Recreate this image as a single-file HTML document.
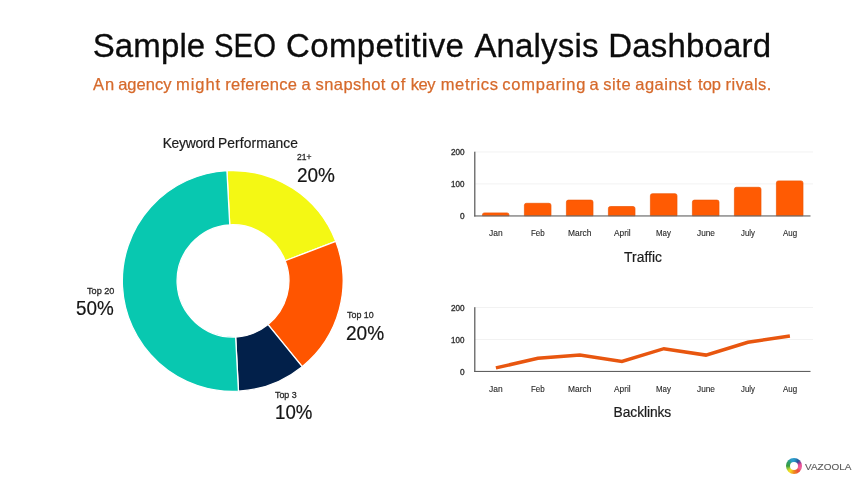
<!DOCTYPE html>
<html><head><meta charset="utf-8"><title>Sample SEO Competitive Analysis Dashboard</title>
<style>
html,body{margin:0;padding:0;background:#fff;}
body{width:864px;height:486px;position:relative;overflow:hidden;font-family:"Liberation Sans",sans-serif;}
#txt{position:absolute;left:0;top:0;width:864px;height:486px;will-change:transform;filter:blur(0.3px);}
.t{position:absolute;white-space:nowrap;line-height:1;}
svg{position:absolute;left:0;top:0;filter:blur(0.3px);}
.lg{filter:blur(0.3px);}
</style></head><body>
<svg width="864" height="486" viewBox="0 0 864 486">
<path d="M226.92 170.65A110.4 110.4 0 0 1 335.77 241.34L285.17 260.76A56.2 56.2 0 0 0 229.76 224.78Z" fill="#f4f814" stroke="#ffffff" stroke-width="1.3" stroke-linejoin="round"/>
<path d="M335.77 241.34A110.4 110.4 0 0 1 302.18 366.70L268.07 324.58A56.2 56.2 0 0 0 285.17 260.76Z" fill="#ff5500" stroke="#ffffff" stroke-width="1.3" stroke-linejoin="round"/>
<path d="M302.18 366.70A110.4 110.4 0 0 1 238.48 391.15L235.64 337.02A56.2 56.2 0 0 0 268.07 324.58Z" fill="#02204a" stroke="#ffffff" stroke-width="1.3" stroke-linejoin="round"/>
<path d="M238.48 391.15A110.4 110.4 0 0 1 226.92 170.65L229.76 224.78A56.2 56.2 0 0 0 235.64 337.02Z" fill="#08c8b0" stroke="#ffffff" stroke-width="1.3" stroke-linejoin="round"/>
<rect x="475" y="151.5" width="338" height="0.9" fill="#f1f1f1"/>
<rect x="475" y="183.45" width="338" height="0.9" fill="#f0f0f0"/>
<path d="M482.40 215.8V214.90Q482.40 212.90 484.40 212.90H507.00Q509.00 212.90 509.00 214.90V215.8Z" fill="#ff5b03" stroke="#ee5604" stroke-width="0.7"/>
<path d="M524.40 215.8V205.30Q524.40 203.30 526.40 203.30H549.00Q551.00 203.30 551.00 205.30V215.8Z" fill="#ff5b03" stroke="#ee5604" stroke-width="0.7"/>
<path d="M566.40 215.8V202.10Q566.40 200.10 568.40 200.10H591.00Q593.00 200.10 593.00 202.10V215.8Z" fill="#ff5b03" stroke="#ee5604" stroke-width="0.7"/>
<path d="M608.40 215.8V208.50Q608.40 206.50 610.40 206.50H633.00Q635.00 206.50 635.00 208.50V215.8Z" fill="#ff5b03" stroke="#ee5604" stroke-width="0.7"/>
<path d="M650.40 215.8V195.70Q650.40 193.70 652.40 193.70H675.00Q677.00 193.70 677.00 195.70V215.8Z" fill="#ff5b03" stroke="#ee5604" stroke-width="0.7"/>
<path d="M692.40 215.8V202.10Q692.40 200.10 694.40 200.10H717.00Q719.00 200.10 719.00 202.10V215.8Z" fill="#ff5b03" stroke="#ee5604" stroke-width="0.7"/>
<path d="M734.40 215.8V189.30Q734.40 187.30 736.40 187.30H759.00Q761.00 187.30 761.00 189.30V215.8Z" fill="#ff5b03" stroke="#ee5604" stroke-width="0.7"/>
<path d="M776.40 215.8V182.90Q776.40 180.90 778.40 180.90H801.00Q803.00 180.90 803.00 182.90V215.8Z" fill="#ff5b03" stroke="#ee5604" stroke-width="0.7"/>
<rect x="474.2" y="151.7" width="1.2" height="64.8" fill="#555"/>
<rect x="474.2" y="215.4" width="336.3" height="1.1" fill="#606060"/>
<rect x="475" y="307.0" width="338" height="0.9" fill="#f1f1f1"/>
<rect x="475" y="338.95" width="338" height="0.9" fill="#f0f0f0"/>
<rect x="474.2" y="307.2" width="1.2" height="64.8" fill="#555"/>
<rect x="474.2" y="370.9" width="336.3" height="1.1" fill="#606060"/>
<polyline points="495.9,367.90 537.9,358.30 579.9,355.10 621.9,361.50 663.9,348.70 705.9,355.10 747.9,342.30 789.9,335.90" fill="none" stroke="#e8560f" stroke-width="3.5" stroke-linejoin="miter"/>

</svg>
<div class="lg" style="position:absolute;left:786.1px;top:457.5px;width:16.4px;height:16.4px;border-radius:50%;background:conic-gradient(from 0deg,#2b9ccb 0deg,#23599c 40deg,#8a3f98 58deg,#ea4f96 80deg,#ef5f9a 110deg,#e9503c 140deg,#f08a1e 180deg,#f6e11f 222deg,#9ccb3c 245deg,#3a9c3e 270deg,#2f9e6a 305deg,#2b9ccb 335deg,#2b9ccb 360deg);"></div>
<div class="lg" style="position:absolute;left:790.1px;top:462.1px;width:8.2px;height:8.2px;border-radius:50%;background:#fff;"></div>
<div id="txt">
<div class="t" id="ti0" style="left:92.69px;top:29.47px;font-size:33.0px;color:#0c0c0c;-webkit-text-stroke:0.3px #0c0c0c;letter-spacing:0.126px;">Sample</div>
<div class="t" id="ti1" style="left:214.20px;top:29.47px;font-size:33.0px;color:#0c0c0c;-webkit-text-stroke:0.3px #0c0c0c;transform:scaleX(0.8891);transform-origin:0 0;">SEO</div>
<div class="t" id="ti2" style="left:286.00px;top:29.47px;font-size:33.0px;color:#0c0c0c;-webkit-text-stroke:0.3px #0c0c0c;letter-spacing:0.369px;">Competitive</div>
<div class="t" id="ti3" style="left:474.45px;top:29.47px;font-size:33.0px;color:#0c0c0c;-webkit-text-stroke:0.3px #0c0c0c;letter-spacing:0.155px;">Analysis</div>
<div class="t" id="ti4" style="left:608.17px;top:29.47px;font-size:33.0px;color:#0c0c0c;-webkit-text-stroke:0.3px #0c0c0c;letter-spacing:0.191px;">Dashboard</div>
<div class="t" id="su0" style="left:93.12px;top:76.23px;font-size:16.5px;color:#d66a2c;-webkit-text-stroke:0.25px #d66a2c;letter-spacing:0.794px;">An</div>
<div class="t" id="su1" style="left:118.13px;top:76.23px;font-size:16.5px;color:#d66a2c;-webkit-text-stroke:0.25px #d66a2c;letter-spacing:0.016px;">agency</div>
<div class="t" id="su2" style="left:176.01px;top:76.23px;font-size:16.5px;color:#d66a2c;-webkit-text-stroke:0.25px #d66a2c;letter-spacing:0.945px;">might</div>
<div class="t" id="su3" style="left:225.31px;top:76.23px;font-size:16.5px;color:#d66a2c;-webkit-text-stroke:0.25px #d66a2c;letter-spacing:0.226px;">reference</div>
<div class="t" id="su4" style="left:301.38px;top:76.23px;font-size:16.5px;color:#d66a2c;-webkit-text-stroke:0.25px #d66a2c;">a</div>
<div class="t" id="su5" style="left:315.59px;top:76.23px;font-size:16.5px;color:#d66a2c;-webkit-text-stroke:0.25px #d66a2c;letter-spacing:0.411px;">snapshot</div>
<div class="t" id="su6" style="left:390.66px;top:76.23px;font-size:16.5px;color:#d66a2c;-webkit-text-stroke:0.25px #d66a2c;letter-spacing:1.026px;">of</div>
<div class="t" id="su7" style="left:410.66px;top:76.23px;font-size:16.5px;color:#d66a2c;-webkit-text-stroke:0.25px #d66a2c;letter-spacing:-0.461px;">key</div>
<div class="t" id="su8" style="left:440.65px;top:76.23px;font-size:16.5px;color:#d66a2c;-webkit-text-stroke:0.25px #d66a2c;letter-spacing:0.688px;">metrics</div>
<div class="t" id="su9" style="left:502.26px;top:76.23px;font-size:16.5px;color:#d66a2c;-webkit-text-stroke:0.25px #d66a2c;letter-spacing:0.758px;">comparing</div>
<div class="t" id="su10" style="left:589.50px;top:76.23px;font-size:16.5px;color:#d66a2c;-webkit-text-stroke:0.25px #d66a2c;">a</div>
<div class="t" id="su11" style="left:603.31px;top:76.23px;font-size:16.5px;color:#d66a2c;-webkit-text-stroke:0.25px #d66a2c;letter-spacing:0.548px;">site</div>
<div class="t" id="su12" style="left:635.32px;top:76.23px;font-size:16.5px;color:#d66a2c;-webkit-text-stroke:0.25px #d66a2c;letter-spacing:0.478px;">against</div>
<div class="t" id="su13" style="left:698.00px;top:76.23px;font-size:16.5px;color:#d66a2c;-webkit-text-stroke:0.25px #d66a2c;letter-spacing:0.046px;">top</div>
<div class="t" id="su14" style="left:725.62px;top:76.23px;font-size:16.5px;color:#d66a2c;-webkit-text-stroke:0.25px #d66a2c;letter-spacing:0.430px;">rivals.</div>
<div class="t" id="kw0" style="left:162.65px;top:137.12px;font-size:13.8px;color:#1c1c1c;-webkit-text-stroke:0.2px #1c1c1c;letter-spacing:-0.234px;">Keyword</div>
<div class="t" id="kw1" style="left:218.05px;top:137.12px;font-size:13.8px;color:#1c1c1c;-webkit-text-stroke:0.2px #1c1c1c;letter-spacing:0.096px;">Performance</div>
<div class="t" id="l21" style="left:297.38px;top:152.16px;font-size:9.5px;color:#2a2a2a;-webkit-text-stroke:0.3px #2a2a2a;transform:scaleX(0.8996);transform-origin:0 0;">21+</div>
<div class="t" id="p21" style="left:297.09px;top:164.12px;font-size:21.0px;color:#151515;-webkit-text-stroke:0.2px #151515;transform:scaleX(0.9043);transform-origin:0 0;">20%</div>
<div class="t" id="l20" style="left:86.86px;top:285.56px;font-size:9.5px;color:#2a2a2a;-webkit-text-stroke:0.3px #2a2a2a;transform:scaleX(0.9611);transform-origin:0 0;">Top 20</div>
<div class="t" id="p20" style="left:76.18px;top:297.22px;font-size:21.0px;color:#151515;-webkit-text-stroke:0.2px #151515;transform:scaleX(0.8973);transform-origin:0 0;">50%</div>
<div class="t" id="l10" style="left:347.15px;top:310.16px;font-size:9.5px;color:#2a2a2a;-webkit-text-stroke:0.3px #2a2a2a;transform:scaleX(0.9347);transform-origin:0 0;">Top 10</div>
<div class="t" id="p10" style="left:345.91px;top:321.72px;font-size:21.0px;color:#151515;-webkit-text-stroke:0.2px #151515;transform:scaleX(0.9081);transform-origin:0 0;">20%</div>
<div class="t" id="l3" style="left:275.37px;top:389.86px;font-size:9.5px;color:#2a2a2a;-webkit-text-stroke:0.3px #2a2a2a;transform:scaleX(0.9341);transform-origin:0 0;">Top 3</div>
<div class="t" id="p3" style="left:275.31px;top:401.42px;font-size:21.0px;color:#151515;-webkit-text-stroke:0.2px #151515;transform:scaleX(0.8889);transform-origin:0 0;">10%</div>
<div class="t" id="traffic" style="left:624.03px;top:250.92px;font-size:13.8px;color:#1c1c1c;-webkit-text-stroke:0.2px #1c1c1c;letter-spacing:0.072px;">Traffic</div>
<div class="t" id="backlinks" style="left:613.61px;top:406.12px;font-size:13.8px;color:#1c1c1c;-webkit-text-stroke:0.2px #1c1c1c;letter-spacing:-0.081px;">Backlinks</div>
<div class="t" id="vaz" style="left:804.76px;top:462.42px;font-size:9.9px;color:#5c5c5c;-webkit-text-stroke:0.15px #5c5c5c;transform:scaleX(1.0098);transform-origin:0 0;">VAZOOLA</div>
<div class="t" id="m0_0" style="left:489.15px;top:229.12px;font-size:8.3px;color:#2a2a2a;-webkit-text-stroke:0.12px #2a2a2a;transform:scaleX(1.0161);transform-origin:0 0;">Jan</div>
<div class="t" id="m0_1" style="left:530.62px;top:229.12px;font-size:8.3px;color:#2a2a2a;-webkit-text-stroke:0.12px #2a2a2a;transform:scaleX(0.9604);transform-origin:0 0;">Feb</div>
<div class="t" id="m0_2" style="left:567.60px;top:229.12px;font-size:8.3px;color:#2a2a2a;-webkit-text-stroke:0.12px #2a2a2a;transform:scaleX(1.0131);transform-origin:0 0;">March</div>
<div class="t" id="m0_3" style="left:613.68px;top:229.12px;font-size:8.3px;color:#2a2a2a;-webkit-text-stroke:0.12px #2a2a2a;transform:scaleX(1.0047);transform-origin:0 0;">April</div>
<div class="t" id="m0_4" style="left:655.58px;top:229.12px;font-size:8.3px;color:#2a2a2a;-webkit-text-stroke:0.12px #2a2a2a;transform:scaleX(0.9516);transform-origin:0 0;">May</div>
<div class="t" id="m0_5" style="left:696.94px;top:229.12px;font-size:8.3px;color:#2a2a2a;-webkit-text-stroke:0.12px #2a2a2a;transform:scaleX(0.9956);transform-origin:0 0;">June</div>
<div class="t" id="m0_6" style="left:741.00px;top:229.12px;font-size:8.3px;color:#2a2a2a;-webkit-text-stroke:0.12px #2a2a2a;transform:scaleX(0.9405);transform-origin:0 0;">July</div>
<div class="t" id="m0_7" style="left:782.71px;top:229.12px;font-size:8.3px;color:#2a2a2a;-webkit-text-stroke:0.12px #2a2a2a;transform:scaleX(0.9541);transform-origin:0 0;">Aug</div>
<div class="t" id="y0_200" style="left:450.75px;top:149.21px;font-size:8.2px;color:#333;-webkit-text-stroke:0.35px #333;transform:scaleX(0.9965);transform-origin:0 0;">200</div>
<div class="t" id="y0_100" style="left:451.41px;top:181.11px;font-size:8.2px;color:#333;-webkit-text-stroke:0.35px #333;transform:scaleX(0.9780);transform-origin:0 0;">100</div>
<div class="t" id="y0_0" style="left:459.67px;top:213.21px;font-size:8.2px;color:#333;-webkit-text-stroke:0.35px #333;transform:scaleX(1.0062);transform-origin:0 0;">0</div>
<div class="t" id="m1_0" style="left:489.15px;top:384.62px;font-size:8.3px;color:#2a2a2a;-webkit-text-stroke:0.12px #2a2a2a;transform:scaleX(1.0161);transform-origin:0 0;">Jan</div>
<div class="t" id="m1_1" style="left:530.62px;top:384.62px;font-size:8.3px;color:#2a2a2a;-webkit-text-stroke:0.12px #2a2a2a;transform:scaleX(0.9604);transform-origin:0 0;">Feb</div>
<div class="t" id="m1_2" style="left:567.60px;top:384.62px;font-size:8.3px;color:#2a2a2a;-webkit-text-stroke:0.12px #2a2a2a;transform:scaleX(1.0131);transform-origin:0 0;">March</div>
<div class="t" id="m1_3" style="left:613.68px;top:384.62px;font-size:8.3px;color:#2a2a2a;-webkit-text-stroke:0.12px #2a2a2a;transform:scaleX(1.0047);transform-origin:0 0;">April</div>
<div class="t" id="m1_4" style="left:655.58px;top:384.62px;font-size:8.3px;color:#2a2a2a;-webkit-text-stroke:0.12px #2a2a2a;transform:scaleX(0.9516);transform-origin:0 0;">May</div>
<div class="t" id="m1_5" style="left:696.94px;top:384.62px;font-size:8.3px;color:#2a2a2a;-webkit-text-stroke:0.12px #2a2a2a;transform:scaleX(0.9956);transform-origin:0 0;">June</div>
<div class="t" id="m1_6" style="left:741.00px;top:384.62px;font-size:8.3px;color:#2a2a2a;-webkit-text-stroke:0.12px #2a2a2a;transform:scaleX(0.9405);transform-origin:0 0;">July</div>
<div class="t" id="m1_7" style="left:782.71px;top:384.62px;font-size:8.3px;color:#2a2a2a;-webkit-text-stroke:0.12px #2a2a2a;transform:scaleX(0.9541);transform-origin:0 0;">Aug</div>
<div class="t" id="y1_200" style="left:450.75px;top:304.71px;font-size:8.2px;color:#333;-webkit-text-stroke:0.35px #333;transform:scaleX(0.9965);transform-origin:0 0;">200</div>
<div class="t" id="y1_100" style="left:451.41px;top:336.61px;font-size:8.2px;color:#333;-webkit-text-stroke:0.35px #333;transform:scaleX(0.9780);transform-origin:0 0;">100</div>
<div class="t" id="y1_0" style="left:459.67px;top:368.71px;font-size:8.2px;color:#333;-webkit-text-stroke:0.35px #333;transform:scaleX(1.0062);transform-origin:0 0;">0</div>
</div>
</body></html>
